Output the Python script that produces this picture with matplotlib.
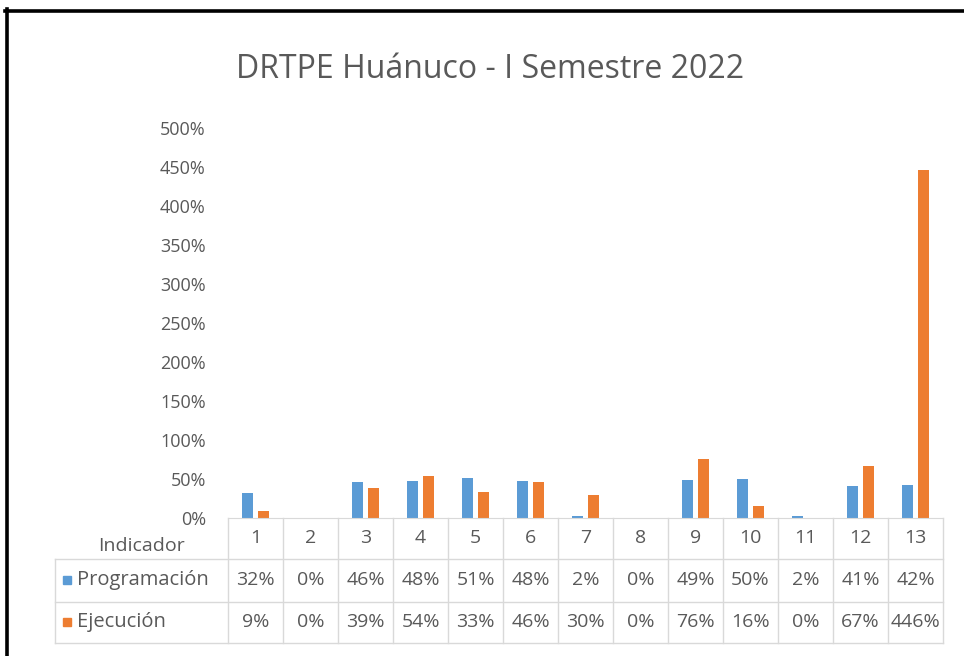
import numpy as np
import matplotlib
matplotlib.use("Agg")
import matplotlib.pyplot as plt
from matplotlib.lines import Line2D
from matplotlib.transforms import blended_transform_factory

plt.rcParams["font.family"] = ["Open Sans", "DejaVu Sans"]

categories = ["1", "2", "3", "4", "5", "6", "7", "8", "9", "10", "11", "12", "13"]
programacion = [32, 0, 46, 48, 51, 48, 2, 0, 49, 50, 2, 41, 42]
ejecucion = [9, 0, 39, 54, 33, 46, 30, 0, 76, 16, 0, 67, 446]
series_names = ["Programación", "Ejecución"]
yticks = [0, 50, 100, 150, 200, 250, 300, 350, 400, 450, 500]

BLUE = "#5B9BD5"
ORANGE = "#ED7D31"
TXT = "#595959"
GRID = "#D9D9D9"

W, H = 964, 656


def fy(py):
    # pixel row (from top) -> figure fraction
    return 1 - py / H


def fx(px):
    return px / W


fig = plt.figure(figsize=(W / 100, H / 100), dpi=100)
ax = fig.add_axes([fx(228), fy(518), fx(943) - fx(228), fy(128) - fy(518)])

x = np.arange(len(categories))
w = 0.2
ax.bar(x - 0.14, programacion, w, color=BLUE)
ax.bar(x + 0.14, ejecucion, w, color=ORANGE)

ax.set_xlim(-0.5, len(categories) - 0.5)
ax.set_ylim(0, 500)
ax.set_yticks(yticks)
ax.set_yticklabels([f"{v}%" for v in yticks], color=TXT, fontsize=13)
ax.tick_params(axis="y", length=0, pad=16)
ax.set_xticks([])
for s in ["top", "right", "left"]:
    ax.spines[s].set_visible(False)
ax.spines["bottom"].set_color(GRID)

fig.text(0.508, fy(70), "DRTPE Huánuco - I Semestre 2022", ha="center",
         va="center", fontsize=23, color=TXT)

# data table under the plot
tr = blended_transform_factory(ax.transData, fig.transFigure)
row_tops = [518, 559, 602, 643]
for i in range(len(categories) + 1):
    fig.add_artist(Line2D([i - 0.5, i - 0.5], [fy(518), fy(643)],
                          transform=tr, color=GRID, lw=1))
for py in row_tops[1:]:
    fig.add_artist(Line2D([fx(55), fx(943)], [fy(py), fy(py)],
                          transform=fig.transFigure, color=GRID, lw=1))
fig.add_artist(Line2D([fx(55), fx(55)], [fy(559), fy(643)],
                      transform=fig.transFigure, color=GRID, lw=1))

row_y = [538, 580, 622]
for i, c in enumerate(categories):
    fig.text(i, fy(row_y[0]), c, transform=tr, ha="center", va="center",
             fontsize=14, color=TXT)
    fig.text(i, fy(row_y[1]), f"{programacion[i]}%", transform=tr,
             ha="center", va="center", fontsize=14, color=TXT)
    fig.text(i, fy(row_y[2]), f"{ejecucion[i]}%", transform=tr,
             ha="center", va="center", fontsize=14, color=TXT)

fig.text(fx(98), fy(546), "Indicador", ha="left", va="center",
         fontsize=14, color=TXT)
for name, col, py in zip(series_names, [BLUE, ORANGE], row_y[1:]):
    fig.add_artist(Line2D([fx(67)], [fy(py)], transform=fig.transFigure,
                          marker="s", ms=6, color=col, lw=0))
    fig.text(fx(77), fy(py), name, ha="left", va="center",
             fontsize=14.5, color=TXT)

# black frame of the screenshot
fig.add_artist(Line2D([fx(6.5), fx(6.5)], [fy(9), 0],
                      transform=fig.transFigure, color="black", lw=2.6))
fig.add_artist(Line2D([fx(5), 1], [fy(10.5), fy(10.5)],
                      transform=fig.transFigure, color="black", lw=2.6))

fig.savefig("out.png", dpi=100)
